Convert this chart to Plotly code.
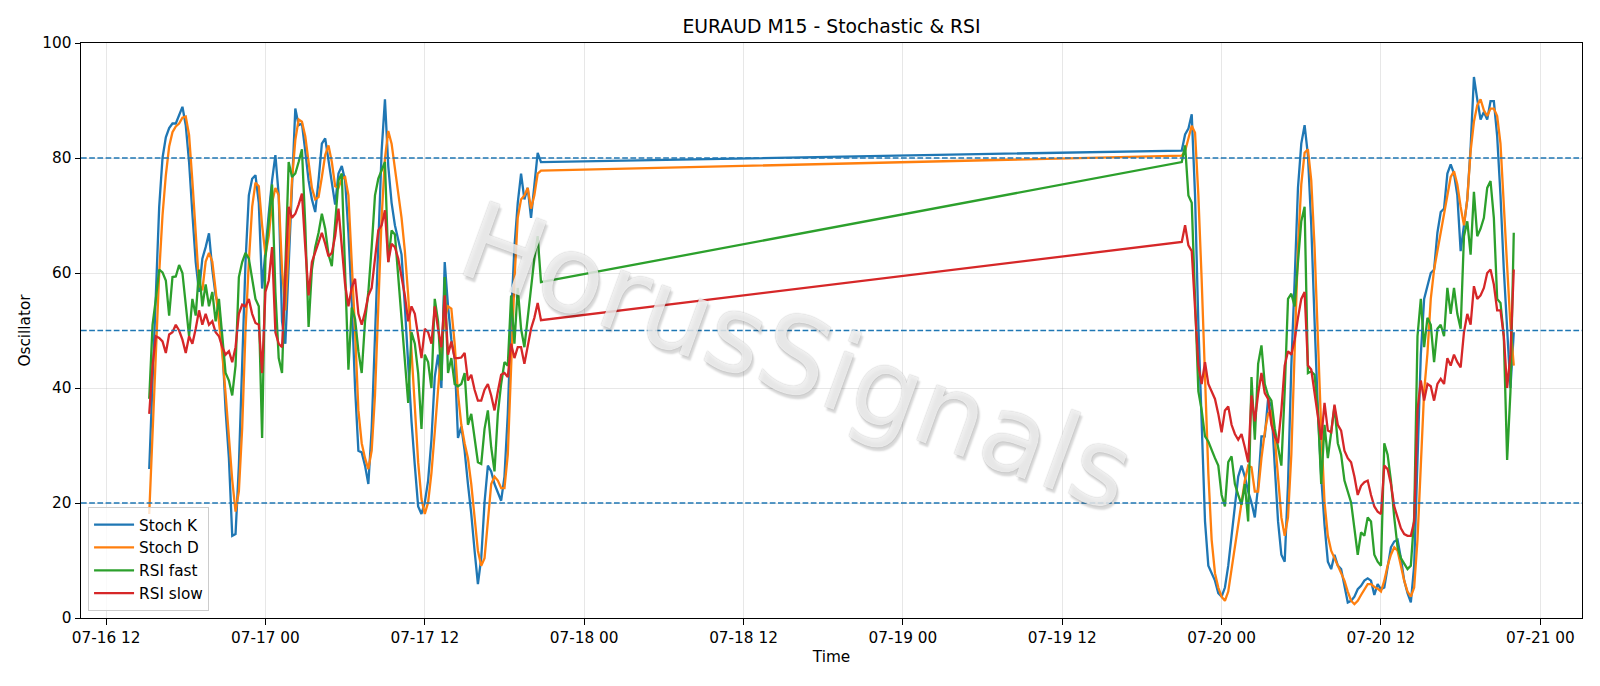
import pandas as pd
import plotly.graph_objects as go

# ---------------- data ----------------
seg1_start = "2025-07-16 15:15"   # first 15-min bar of the first block
seg2_start = "2025-07-19 21:00"   # first 15-min bar after the gap
bar_freq = "15min"

stoch_k_1 = [25.9, 42, 58.7, 71.5, 80, 83.6, 85.2, 86, 86, 87.3, 88.9, 85.7, 79.3, 70.3, 61.9, 56.7, 62.5, 64.5, 66.9, 60.6,
             56.1, 54.2, 47.7, 36.1, 27.8, 14.3, 14.6, 26.5, 42.6, 61.9,
             73.5, 76.4, 77, 72.2, 57.3, 64.5, 70.3, 76.1, 80.5, 73.5, 51.6, 47.7, 61.9, 74.8, 88.6, 85.7, 86, 81.2, 76.1, 72.8,
             70.6, 76.1, 82.5, 83.4, 79.3, 75.4, 71.9, 77.3, 78.6, 76.1, 67, 55, 40,
             29.1, 28.8, 26.5, 23.3, 32.9, 49, 67, 81.2, 90.2, 78.6, 72.2, 68.3, 65.8, 63.2, 54.2, 43.9, 34.2, 26.5, 19.4, 18.1,
             20.1, 23.9, 31, 41.9, 45.8, 40, 61.9, 54.2, 48.4, 45.2, 31.3,
             33.3, 29.1, 23.3, 18.1, 11.7, 5.9, 10.4, 20.1, 26.5, 25.5, 23.3, 21.7, 20.4, 24.6, 35.5, 52.2, 64.5, 72.2, 77.3, 72.8,
             74.8, 69.6, 74.8, 80.9, 79.3]
stoch_d_1 = [18.1, 31, 46, 60, 70, 77, 82, 84.5, 85.5, 86, 87, 87.2, 84, 76, 66, 58, 57, 62, 63.5, 62,
             57, 52, 46, 39, 31, 24, 18.5, 22, 33, 50,
             61.9, 71.5, 75.7, 75.1, 68.3, 63.2, 66.4, 72.2, 74.8, 73.5, 60.6, 53.5, 64.5, 76.1, 83.1, 86.7, 86.3, 83.8, 79.3, 74.8,
             72.8, 73.2, 76.7, 80.5, 82.2, 79.3, 75.1, 74.8, 76.4, 76.7, 73.5, 62, 50,
             36.1, 30.4, 27.8, 25.9, 29.1, 38.7, 54.2, 69.6, 79.9, 84.7, 82.5, 78, 73.5, 69.6, 63.8, 56.1, 46.4, 36.1, 27.1, 20.7,
             18.1, 20.1, 25.2, 32.3, 39.4, 47.1, 52.2, 54.2, 53.8, 47.7, 39,
             33.6, 30.4, 27.8, 23.3, 17.5, 11.7, 9.1, 10.4, 16.8, 23.3, 24.6, 23.9, 22.6, 22.6, 28.4, 42.6, 58.7, 69.6, 72.8, 73.5,
             74.8, 71.2, 73.5, 77.3, 77.8]
rsi_fast_1 = [38.1, 51, 55.5, 60.6, 60.1, 58.7, 52.6, 59.3, 59.4, 61.4, 60, 54.2, 49, 55.5, 52.6, 60.6, 54.2, 58, 54.2, 56.7,
              51.6, 55.5, 49, 42.6, 41.3, 38.7, 43.9, 59.3, 61.9, 63.5,
              62.5, 59.3, 55.5, 54.2, 31.3, 62.5, 69.6, 75.4, 56.7, 45.2, 42.6, 60.6, 79.3, 76.7, 77.3, 79.3, 81.5, 68.3, 50.6, 60.6,
              64.5, 67, 70.3, 67.7, 63.2, 61.2, 68.3, 76.1, 77.3, 61.9, 43.2, 54, 52,
              46.4, 42.6, 51.6, 56.7, 64.5, 73.5, 76.4, 78, 79.3, 61.9, 67.4, 66.7, 59.3, 51.6, 43.9, 37.4, 49.7, 47.7, 42.6, 32.9,
              45.8, 44.5, 40, 55.5, 51.6, 41.3, 59.3, 42.6, 45.2, 40.7, 40.3,
              40.7, 42.6, 33.6, 35.5, 31, 27.1, 26.8, 32.9, 36.1, 29.7, 25.5, 35.5, 40.7, 44.5, 43.9, 56.1, 47.7, 57.4, 50.3, 47.1,
              52.2, 58, 62.5, 66.4, 58.4]
rsi_slow_1 = [35.5, 43.9, 49, 48.7, 48.1, 46.1, 49.3, 49.7, 51, 50, 48.4, 46.1, 49, 47.7, 50.3, 53.5, 51, 52.9, 51, 51.6,
              49.7, 49, 47.1, 45.8, 46.4, 44.5, 47.1, 52.9, 54.5, 54.2,
              55.5, 52.9, 51.3, 51, 42.6, 56.7, 58.7, 64.5, 49.7, 47.7, 47.1, 58.7, 71.5, 69.6, 70.3, 71.9, 73.8, 64.5, 56.1, 61.9,
              63.5, 65.2, 67, 65.1, 62.9, 63.5, 66.4, 71.2, 64.5, 58, 54.2, 57.5, 59,
              52.9, 51, 53.2, 56.1, 57.4, 62.5, 67.4, 68.3, 70.9, 61.9, 65.1, 64.5, 62.5, 59.3, 56.1, 51.6, 54.2, 52.9, 49, 45.2,
              50.3, 49.7, 47.7, 54.2, 50.3, 47.1, 56.1, 45.8, 48.1, 45.2, 45.2,
              45.3, 46.1, 41.3, 42.3, 39.7, 37.8, 37.8, 39.7, 40.7, 38.7, 36.1, 39.4, 42.3, 42.6, 41.9, 47.7, 45.2, 47.1, 47.1, 44.2,
              47.1, 50.3, 52.2, 54.8, 51.8]

stoch_k_2 = [81.3, 84.1, 85.1, 87.6, 73.5, 51, 33, 16.8, 9.1, 7.8, 6.5, 4.3, 3.7, 5.3, 9.1, 14.3, 20.1, 24.6, 26.5, 24.6,
             22, 20.1, 17.5, 23,
             31.6, 31.6, 38.1, 36.8, 26.5, 16.8, 11, 9.8, 23.3, 43.9, 58.7, 74.8, 82.5, 85.7, 80.5, 68.3, 51.6, 36.1, 24.6, 16.2,
             9.8, 8.5, 11, 9.1,
             8.5, 5.3, 2.7, 3, 3.7, 5, 5.6, 6.5, 6.9, 6.5, 4, 5.9, 5, 5.3, 9.1, 12.3, 13.3, 13.6, 10.4, 6.5, 4.3, 2.7, 9.1, 29.7,
             45.8, 55.5,
             58, 60, 60.6, 67, 70.6, 71.2, 77.3, 78.9, 77.3, 73.5, 63.8, 68.3, 72.8, 81.8, 94.1, 90.2, 86.7, 88, 86.7, 89.9, 89.9,
             83.8, 73.5, 60.6, 49, 40, 49.7]
stoch_d_2 = [80.4, 81.2, 83.4, 85.6, 84.4, 73.5, 58.7, 41.3, 25.2, 13.6, 7.8, 5.3, 3.7, 3, 4.6, 8.5, 12.3, 16.8, 20.7, 23.9,
             26.5, 26.2, 22, 22,
             27.8, 32.3, 35.5, 36.1, 31.6, 23.9, 17.5, 14.3, 17.5, 28.4, 46.4, 64.5, 75.4, 80.9, 81.5, 76.1, 64.5, 48.4, 32.9, 20.1,
             14.3, 11.7, 10.4, 9.1,
             7.8, 6.5, 4.6, 3, 2.4, 3, 4, 5, 5.9, 5.9, 5.4, 5.1, 4.6, 6.5, 9.1, 11, 12.3, 11.7, 9.1, 6.5, 4.6, 3.7, 5.3, 13.6,
             26.5, 39.4,
             46, 55.5, 60.6, 63.8, 67.7, 70.3, 73.5, 76.7, 77.7, 75.4, 71.5, 68.3, 72.8, 81.2, 86.3, 89.2, 90.2, 88.3, 87.3, 88.6,
             88.6, 87.3, 82.5, 72.8, 61.2, 51, 43.9]
rsi_fast_2 = [79.3, 82.2, 73.5, 72.2, 55.5, 39.4, 36.1, 31.6, 30.7, 29.1, 27.8, 26.5, 21.4, 19.4, 27.1, 28.1, 23.3, 21.4, 19.7,
              23.3, 16.8, 41.9, 31, 44.2,
              47.4, 40.7, 38.7, 37.8, 33, 29.7, 26.5, 39.4, 55.5, 56.4, 54.2, 61.9, 69, 71.5, 42.6, 42.9, 42.3, 36.1, 23.3, 33.6,
              27.8, 32.3, 36.8, 30.4,
              28.4, 23.9, 22, 20.1, 15.6, 11, 14.9, 14.3, 17.5, 16.8, 11, 9.8, 9.1, 30.4, 28.4, 23.9, 17.5, 12.3, 10.4, 9.4, 8.5,
              9.1, 17.5, 49, 55.5, 47.1,
              52.2, 51, 44.5, 50.3, 51, 49, 57.4, 52.9, 57.4, 52.9, 50.3, 66.4, 69, 63.2, 74.1, 66.4, 67.7, 69.6, 74.8, 76, 69.6,
              55.5, 54.8, 49, 27.5, 39.4, 67]
rsi_slow_2 = [65.4, 68.3, 64.8, 63.8, 54.2, 43.9, 40.7, 44.5, 40.7, 39.4, 38.1, 35.5, 32.3, 36.1, 36.8, 33.6, 32, 31, 32,
              29.7, 27.1, 38.7, 34.2, 39,
              42.6, 39.1, 38.1, 33.6, 31.6, 30.4, 36.1, 43.9, 46.4, 45.8, 48.4, 52.2, 55.5, 56.7, 43.9, 43.2, 39.4, 34.9, 31, 37.4,
              32.6, 32.3, 37.1, 33.6,
              32.6, 29.1, 27.8, 27.1, 24.6, 21.4, 23, 23.6, 23.9, 21.4, 19.4, 18.5, 18.1, 26.5, 25.9, 23.3, 19.4, 17.5, 15.6, 14.6,
              14.3, 14.3, 16.8, 36.1, 41.3, 37.8,
              40.7, 40.3, 37.8, 40.7, 41.6, 40.7, 45.2, 43.9, 45.8, 44.5, 43.6, 49.7, 52.9, 51, 57.7, 55.5, 56.1, 57.4, 60, 60.6,
              58, 53.5, 53.5, 49, 40, 45.8, 60.6]

series_names = ["Stoch K", "Stoch D", "RSI fast", "RSI slow"]
series_colors = ["#1f77b4", "#ff7f0e", "#2ca02c", "#d62728"]
ref_levels = [80, 50, 20]
y_ticks = [0, 20, 40, 60, 80, 100]
x_tick_start, x_tick_end = "2025-07-16 12:00", "2025-07-21 00:00"

# ---------------- build ----------------
t1 = pd.date_range(seg1_start, periods=len(stoch_k_1), freq=bar_freq)
t2 = pd.date_range(seg2_start, periods=len(stoch_k_2), freq=bar_freq)
times = t1.append(t2)

series_vals = [stoch_k_1 + stoch_k_2, stoch_d_1 + stoch_d_2,
               rsi_fast_1 + rsi_fast_2, rsi_slow_1 + rsi_slow_2]

FONT = "DejaVu Sans"
FS = 15.3
fig = go.Figure()
for name, color, vals in zip(series_names, series_colors, series_vals):
    fig.add_trace(go.Scatter(x=times, y=vals[:len(times)], mode="lines", name=name,
                             line=dict(color=color, width=2.3), legendgroup=name))

for lv in ref_levels:
    fig.add_shape(type="line", xref="paper", x0=0, x1=1, yref="y", y0=lv, y1=lv,
                  line=dict(color="#1f77b4", width=1.5, dash="5.7px,2.5px"), layer="above")

span = times[-1] - times[0]
x_range = [times[0] - span * 0.05, times[-1] + span * 0.05]
tickvals = pd.date_range(x_tick_start, x_tick_end, freq="12h")
ticktext = [t.strftime("%m-%d %H") for t in tickvals]

axis_common = dict(showline=True, linecolor="black", linewidth=1.2, mirror=True,
                   ticks="outside", ticklen=5.4, tickwidth=1.2, tickcolor="black",
                   showgrid=True, gridcolor="rgba(176,176,176,0.3)", gridwidth=1.2,
                   zeroline=False, tickfont=dict(family=FONT, size=FS, color="black"))

fig.update_layout(
    width=1600, height=686,
    margin=dict(l=81, r=18, t=43, b=68),
    paper_bgcolor="white", plot_bgcolor="white",
    font=dict(family=FONT, size=FS, color="black"),
    title=dict(text="EURAUD M15 - Stochastic & RSI", x=0.5, xanchor="center",
               xref="paper", yref="paper", y=1, yanchor="bottom",
               pad=dict(b=10), font=dict(family=FONT, size=18.8, color="black")),
    xaxis=dict(range=x_range, tickvals=tickvals, ticktext=ticktext,
               title=dict(text="Time", standoff=5, font=dict(family=FONT, size=FS)),
               **axis_common),
    yaxis=dict(range=[0, 100], tickvals=y_ticks,
               title=dict(text="Oscillator", standoff=7, font=dict(family=FONT, size=FS)),
               **axis_common),
    legend=dict(x=0.0047, y=0.012, xanchor="left", yanchor="bottom",
                bgcolor="rgba(255,255,255,0.8)", bordercolor="#cccccc", borderwidth=1,
                font=dict(family=FONT, size=FS), tracegroupgap=0, itemwidth=40),
    showlegend=True,
)

# watermark
fig.add_annotation(text="HorusSignals", xref="paper", yref="paper",
                   x=(797 - 81) / 1501, y=(618 - 356) / 575, xanchor="center", yanchor="middle",
                   showarrow=False, textangle=20,
                   font=dict(family=FONT, size=108, color="rgba(255,255,255,0.78)",
                             shadow="0px 0px 1.2px rgba(0,0,0,0.4), 3px 3px 2px rgba(0,0,0,0.2)"))

fig.write_html("out.html")
